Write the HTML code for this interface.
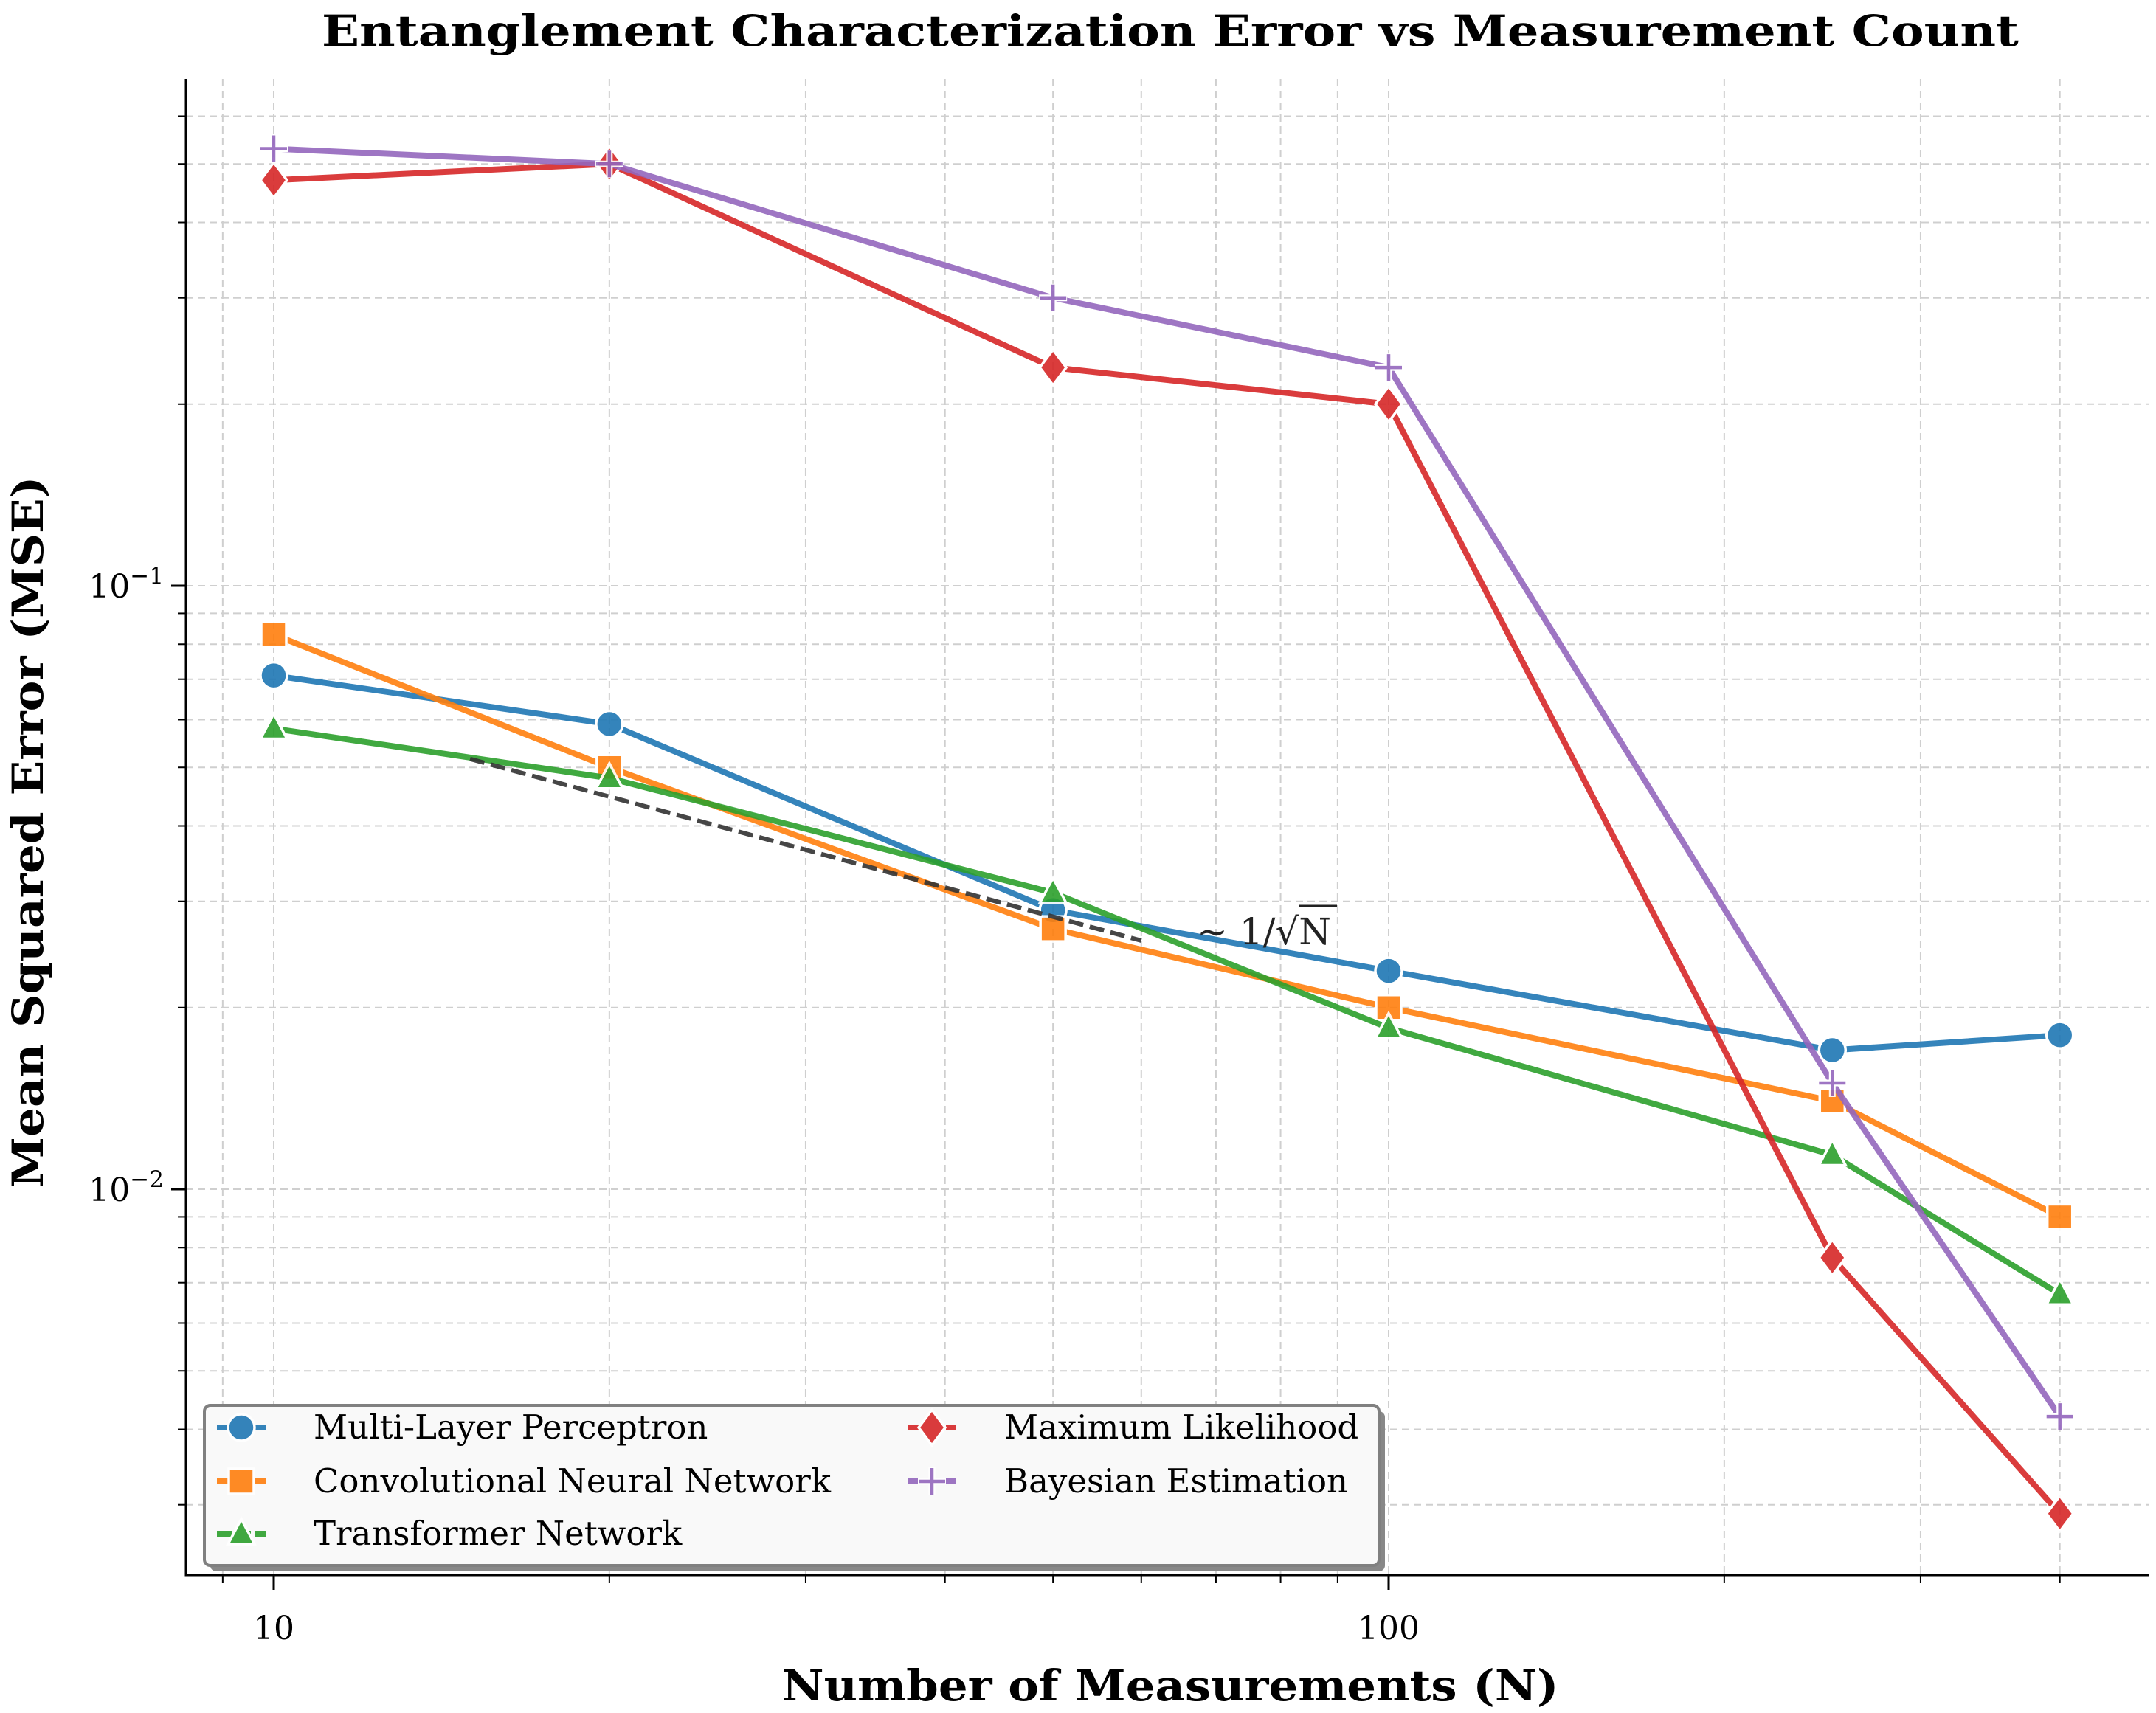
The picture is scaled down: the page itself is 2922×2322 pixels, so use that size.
<!DOCTYPE html>
<html><head><meta charset="utf-8"><style>
html,body{margin:0;padding:0;background:#fff;}
svg{display:block;font-family:"DejaVu Serif","Liberation Serif",serif;}
</style></head><body>
<svg id="chart" width="2922" height="2322" viewBox="0 0 2922 2322" xmlns="http://www.w3.org/2000/svg">
<rect width="2922" height="2322" fill="#fff"/>
<g id="grid"></g>
<g id="series"></g>
<g id="axes"></g>
<text x="1586" y="62" text-anchor="middle" font-size="58" font-weight="bold" textLength="2300" lengthAdjust="spacingAndGlyphs">Entanglement Characterization Error vs Measurement Count</text>
<text x="1586" y="2305" text-anchor="middle" font-size="58" font-weight="bold" textLength="1053" lengthAdjust="spacingAndGlyphs">Number of Measurements (N)</text>
<text transform="translate(58,1128) rotate(-90)" text-anchor="middle" font-size="58" font-weight="bold" textLength="965" lengthAdjust="spacingAndGlyphs">Mean Squared Error (MSE)</text>
<g>
<text x="1622" y="1280" font-size="50" fill="#222">∼ 1/√N</text>
<line x1="1760" y1="1228" x2="1812" y2="1228" stroke="#222" stroke-width="3"/>
</g>
<g id="legend"></g>
</svg>
<script>
const categories = [10, 20, 50, 100, 250, 400];
const seriesNames = ["Multi-Layer Perceptron","Convolutional Neural Network","Transformer Network","Maximum Likelihood","Bayesian Estimation"];
const mlpValues = [0.071, 0.059, 0.029, 0.023, 0.017, 0.018];
const cnnValues = [0.083, 0.050, 0.027, 0.020, 0.014, 0.009];
const transformerValues = [0.058, 0.048, 0.031, 0.0185, 0.0114, 0.0067];
const mlValues = [0.47, 0.50, 0.23, 0.20, 0.0077, 0.0029];
const bayesValues = [0.53, 0.50, 0.30, 0.23, 0.015, 0.0042];
const refRange = [15, 60];
const refCoef = [0.2];
const xTickLabels = ["10", "100"];
const yTickExps = ["−1", "−2"];

const NS = "http://www.w3.org/2000/svg";
const L = 252, R = 2913, T = 107, B = 2135;
function xs(v){ return 371 + 1511*(Math.log10(v) - 1); }
function ys(v){ return 794 - 818*(Math.log10(v) + 1); }
function mk(tag, attrs, parent){ const e = document.createElementNS(NS, tag); for (const k in attrs) e.setAttribute(k, attrs[k]); parent.appendChild(e); return e; }

const grid = document.getElementById('grid');
const axes = document.getElementById('axes');
const xg = [9,10,20,30,40,50,60,70,80,90,100,200,300,400];
xg.forEach(v => {
  const x = xs(v);
  const ln = mk('line', {x1:x, x2:x, y1:T, y2:B, stroke:'#cfcfcf', 'stroke-width':2, 'stroke-dasharray':'10,6'}, grid);
  
  
});
const yg = [];
for (let m = 3; m <= 9; m++) yg.push(m*0.001);
for (let m = 1; m <= 9; m++) yg.push(m*0.01);
for (let m = 1; m <= 6; m++) yg.push(m*0.1);
yg.forEach(v => {
  const y = ys(v);
  const ln = mk('line', {x1:L, x2:R, y1:y, y2:y, stroke:'#cfcfcf', 'stroke-width':2, 'stroke-dasharray':'10,6'}, grid);
  
  
  const major = Math.abs(Math.log10(v) - Math.round(Math.log10(v))) < 1e-6;
  const tk = mk('line', {x1:L-(major?20:11), x2:L, y1:y, y2:y, stroke:'#000', 'stroke-width':major?3:2}, axes);
  
  
});
xg.forEach(v => {
  const x = xs(v);
  const major = (v === 10 || v === 100);
  const tk = mk('line', {x1:x, x2:x, y1:B, y2:B+(major?20:11), stroke:'#000', 'stroke-width':major?3:2}, axes);
  
  
});
const sl = mk('line', {x1:L, x2:L, y1:T, y2:B+1.5, stroke:'#000', 'stroke-width':3}, axes);


const sb = mk('line', {x1:L-1.5, x2:R, y1:B, y2:B, stroke:'#000', 'stroke-width':3}, axes);


[10,100].forEach((v,i) => {
  const t = mk('text', {x:xs(v), y:2222, 'text-anchor':'middle', 'font-size':44}, axes);
  t.textContent = xTickLabels[i];
  
  
});
[0.1, 0.01].forEach((v,i) => {
  const t = mk('text', {x:222, y:ys(v)+16, 'text-anchor':'end', 'font-size':44}, axes);
  t.textContent = "10";
  const s = mk('tspan', {'font-size':31, dy:-19}, t);
  s.textContent = yTickExps[i];
  
  
});

const colors = ['#1f77b4','#ff7f0e','#2ca02c','#d62728','#9467bd'];
const markers = ['circle','square','triangle','diamond','plus'];
const allValues = [mlpValues, cnnValues, transformerValues, mlValues, bayesValues];
const keys = ['mlp','cnn','transformer','ml','bayes'];
const sg = document.getElementById('series');

function marker(type, cx, cy, color, parent, s){
  s = s || 1;
  let e;
  if (type === 'circle') e = mk('circle', {cx, cy, r:18*s, fill:color, stroke:'#fff', 'stroke-width':3.5}, parent);
  else if (type === 'square') e = mk('rect', {x:cx-17*s, y:cy-17*s, width:34*s, height:34*s, fill:color, stroke:'#fff', 'stroke-width':3.5}, parent);
  else if (type === 'triangle') e = mk('polygon', {points:`${cx},${cy-20*s} ${cx+18*s},${cy+14*s} ${cx-18*s},${cy+14*s}`, fill:color, stroke:'#fff', 'stroke-width':3.5}, parent);
  else if (type === 'diamond') e = mk('polygon', {points:`${cx},${cy-24*s} ${cx+18*s},${cy} ${cx},${cy+24*s} ${cx-18*s},${cy}`, fill:color, stroke:'#fff', 'stroke-width':3.5}, parent);
  else {
    e = mk('g', {}, parent);
    mk('path', {d:`M${cx-19*s},${cy}H${cx+19*s}M${cx},${cy-19*s}V${cy+19*s}`, stroke:'#fff', 'stroke-width':9, fill:'none'}, e);
    mk('path', {d:`M${cx-18*s},${cy}H${cx+18*s}M${cx},${cy-18*s}V${cy+18*s}`, stroke:color, 'stroke-width':4.5, fill:'none'}, e);
  }
  return e;
}

allValues.forEach((vals, si) => {
  const g = mk('g', {opacity:0.9}, sg);
  
  
  const pts = vals.map((v,i) => `${xs(categories[i])},${ys(v)}`).join(' ');
  const pl = mk('polyline', {points:pts, fill:'none', stroke:colors[si], 'stroke-width':8, 'stroke-linejoin':'round'}, g);
  
  
  vals.forEach((v,i) => {
    const m = marker(markers[si], xs(categories[i]), ys(v), colors[si], g);
    
    
  });
});
const rl = mk('line', {x1:xs(refRange[0]), y1:ys(refCoef[0]/Math.sqrt(refRange[0])), x2:xs(refRange[1]), y2:ys(refCoef[0]/Math.sqrt(refRange[1])), stroke:'#333', 'stroke-width':6, 'stroke-dasharray':'20,9', opacity:0.9}, sg);



const lg = document.getElementById('legend');
const sh = mk('rect', {x:285, y:1913, width:1592, height:217, rx:8, fill:'#888'}, lg);


const box = mk('rect', {x:277, y:1905, width:1592, height:217, rx:8, fill:'#f9f9f9', stroke:'#808080', 'stroke-width':4}, lg);


const pos = [[294,1935],[294,2008],[294,2079],[1230,1935],[1230,2008]];
seriesNames.forEach((n, si) => {
  const [hx, hy] = pos[si];
  const e = mk('g', {}, lg);
  
  
  const gg = mk('g', {opacity:0.9}, e);
  mk('line', {x1:hx, x2:hx+66, y1:hy, y2:hy, stroke:colors[si], 'stroke-width':8, 'stroke-dasharray':'20,6'}, gg);
  marker(markers[si], hx+33, hy, colors[si], gg);
  const t = mk('text', {x:hx+131, y:hy+15, 'font-size':45}, e);
  t.textContent = n;
});
</script>
</body></html>
